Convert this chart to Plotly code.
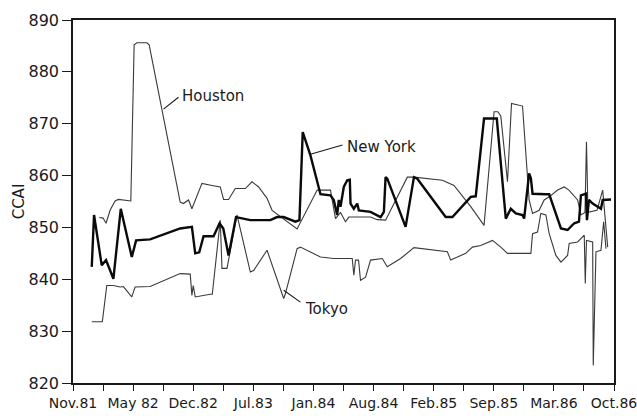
import plotly.graph_objects as go

# Time axis: positions in label units (0 = Nov.81 ... 9 = Oct.86)
tick_labels = ["Nov.81", "May 82", "Dec.82", "Jul.83", "Jan.84",
               "Aug.84", "Feb.85", "Sep.85", "Mar.86", "Oct.86"]

houston_x = [0.438, 0.50, 0.55, 0.617, 0.70, 0.755, 0.962, 1.017, 1.062, 1.228,
             1.267, 1.783, 1.838, 1.922, 1.978, 2.033, 2.145, 2.312, 2.45, 2.505,
             2.588, 2.70, 2.867, 2.978, 3.088, 3.228, 3.312, 3.728, 4.062, 4.283,
             4.367, 4.45, 4.533, 4.588, 4.728, 4.95, 5.062, 5.20, 5.562, 5.672,
             6.145, 6.338, 6.617, 6.838, 7.005, 7.067, 7.117, 7.228, 7.295, 7.422,
             7.478, 7.588, 7.645, 7.755, 7.838, 7.922, 8.062, 8.172, 8.25, 8.395,
             8.45, 8.517, 8.542, 8.567, 8.717, 8.812, 8.833, 8.895]
houston_y = [851.9, 851.8, 850.8, 853.3, 855.1, 855.4, 855.1, 885.2, 885.6, 885.6,
             885.2, 854.9, 854.6, 855.3, 853.6, 855.3, 858.5, 858.1, 857.8, 855.4,
             855.4, 857.5, 857.5, 858.8, 857.8, 855.6, 853.3, 849.7, 857.2, 857.2,
             851.7, 852.9, 851.1, 852.0, 852.0, 852.0, 851.5, 851.4, 859.7, 859.7,
             859.1, 858.1, 854.0, 850.4, 872.3, 872.3, 871.5, 858.8, 873.9, 873.6,
             873.4, 855.3, 852.7, 853.3, 855.3, 855.9, 857.2, 857.8, 857.2, 855.3,
             852.4, 852.9, 866.5, 852.9, 853.3, 857.2, 854.3, 846.2]

newyork_x = [0.312, 0.35, 0.478, 0.55, 0.672, 0.795, 0.978, 1.05, 1.283, 1.783,
             1.978, 2.033, 2.10, 2.172, 2.338, 2.438, 2.50, 2.588, 2.712, 2.783,
             2.95, 3.283, 3.395, 3.505, 3.70, 3.767, 3.822, 3.95, 4.088, 4.117,
             4.283, 4.338, 4.395, 4.422, 4.45, 4.505, 4.562, 4.605, 4.617, 4.672,
             4.728, 4.755, 4.95, 5.062, 5.117, 5.172, 5.20, 5.228, 5.533, 5.672,
             5.728, 6.20, 6.312, 6.617, 6.70, 6.838, 7.05, 7.20, 7.283, 7.367,
             7.478, 7.505, 7.588, 7.617, 7.645, 7.867, 7.922, 8.117, 8.228, 8.338,
             8.417, 8.45, 8.533, 8.55, 8.583, 8.645, 8.783, 8.812, 8.95]
newyork_y = [842.4, 852.4, 842.7, 843.7, 840.1, 853.6, 844.3, 847.5, 847.7, 849.8,
             850.1, 845.0, 845.2, 848.3, 848.3, 850.8, 849.8, 844.6, 852.0, 851.8,
             851.4, 851.4, 852.0, 852.0, 851.1, 851.4, 868.4, 863.9, 858.1, 856.4,
             856.2, 855.3, 852.4, 855.3, 854.0, 857.8, 859.1, 859.2, 854.6, 853.6,
             854.6, 853.3, 853.0, 852.4, 852.0, 853.0, 859.7, 859.4, 850.1, 859.7,
             859.4, 852.0, 852.0, 855.9, 856.0, 871.0, 871.0, 851.7, 853.6, 852.7,
             852.4, 851.7, 860.4, 859.5, 856.5, 856.4, 856.4, 849.8, 849.5, 850.8,
             851.1, 856.2, 856.5, 851.4, 855.3, 854.6, 853.6, 855.3, 855.4]

tokyo_x = [0.312, 0.488, 0.562, 0.672, 0.783, 0.838, 0.978, 1.033, 1.283, 1.783,
           1.95, 1.978, 2.0, 2.033, 2.283, 2.317, 2.45, 2.478, 2.562, 2.728,
           2.95, 3.005, 3.228, 3.505, 3.533, 3.728, 3.783, 4.117, 4.338, 4.645,
           4.672, 4.70, 4.75, 4.783, 4.867, 4.95, 5.145, 5.228, 5.45, 5.672,
           6.228, 6.283, 6.533, 6.645, 6.783, 6.978, 7.117, 7.228, 7.617, 7.645,
           7.728, 7.783, 7.867, 7.922, 8.033, 8.117, 8.228, 8.255, 8.395, 8.505,
           8.522, 8.542, 8.645, 8.655, 8.70, 8.783, 8.828, 8.867]
tokyo_y = [831.8, 831.8, 838.8, 838.8, 838.5, 838.6, 836.6, 838.5, 838.6, 841.1,
           841.0, 836.9, 838.8, 836.6, 837.1, 837.1, 851.4, 842.1, 842.1, 852.4,
           841.4, 841.7, 845.6, 836.3, 837.2, 845.9, 846.2, 844.3, 844.0, 844.0,
           840.8, 843.7, 843.7, 839.8, 840.4, 843.7, 844.0, 842.4, 844.0, 846.1,
           845.3, 843.7, 845.0, 846.2, 846.5, 847.5, 846.2, 845.0, 845.0, 848.8,
           849.1, 852.7, 852.4, 848.8, 844.6, 843.3, 844.6, 846.9, 847.2, 848.5,
           839.2, 847.5, 847.2, 823.4, 845.3, 845.6, 851.1, 845.9]

INK = "#1a1a1a"
THIN = "#3a3a3a"
FONT = "DejaVu Sans"

fig = go.Figure()
fig.add_trace(go.Scatter(x=houston_x, y=houston_y, mode="lines",
                         line=dict(color=THIN, width=1.1), name="Houston"))
fig.add_trace(go.Scatter(x=tokyo_x, y=tokyo_y, mode="lines",
                         line=dict(color=THIN, width=1.1), name="Tokyo"))
fig.add_trace(go.Scatter(x=newyork_x, y=newyork_y, mode="lines",
                         line=dict(color="#0a0a0a", width=2.4), name="New York"))

# Series labels with short leader lines
labels = [
    ("Houston", 1.783, 875.3, (1.505, 872.8), (1.755, 875.1)),
    ("New York", 4.517, 865.5, (3.95, 864.1), (4.483, 865.9)),
    ("Tokyo", 3.833, 834.2, (3.505, 837.9), (3.783, 835.6)),
]
for text, tx, ty, p0, p1 in labels:
    fig.add_annotation(x=tx, y=ty, text=text, showarrow=False, xanchor="left",
                       yanchor="middle", font=dict(family=FONT, size=15, color=INK))
    fig.add_shape(type="line", x0=p0[0], y0=p0[1], x1=p1[0], y1=p1[1],
                  line=dict(color=INK, width=1.1))

tickvals = [i * 0.5 for i in range(19)]
ticktext = [tick_labels[i // 2] if i % 2 == 0 else "" for i in range(19)]

fig.update_layout(
    width=637, height=416,
    margin=dict(l=73, r=23, t=20, b=33, autoexpand=False),
    paper_bgcolor="white", plot_bgcolor="white",
    showlegend=False,
    font=dict(family=FONT, size=15, color=INK),
    xaxis=dict(range=[0, 9], tickvals=tickvals, ticktext=ticktext,
               ticks="outside", ticklen=6, tickwidth=1.3, tickcolor=INK,
               ticklabeloverflow="allow", ticklabelstandoff=0, automargin=False,
               showline=True, linecolor=INK, linewidth=1.6, mirror=True,
               showgrid=False, zeroline=False,
               tickfont=dict(family=FONT, size=14, color=INK)),
    yaxis=dict(range=[820, 890], dtick=10, tick0=820, automargin=False,
               ticks="outside", ticklen=9, tickwidth=1.3, tickcolor=INK,
               showline=True, linecolor=INK, linewidth=1.6, mirror=True,
               showgrid=False, zeroline=False,
               title=dict(text="CCAI", standoff=0,
                          font=dict(family=FONT, size=15, color=INK)),
               tickfont=dict(family=FONT, size=16, color=INK)),
)

fig.write_html("out.html")
